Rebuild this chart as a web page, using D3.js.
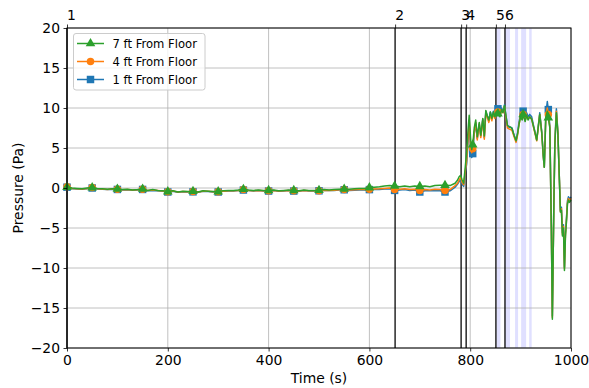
<!DOCTYPE html>
<html><head><meta charset="utf-8">
<script src="https://cdn.jsdelivr.net/npm/d3@7"></script>
<style>body{margin:0;background:#fff}svg{display:block;font-family:"DejaVu Sans",sans-serif}</style>
</head><body><svg id="c" width="589" height="388"></svg>
<script>
const time = [
0,10,20,30,40,50,60,70,80,90,100,110,120,130,140,150,160,170,180,190,
200,210,220,230,240,250,260,270,280,290,300,310,320,330,340,350,360,370,380,390,
400,410,420,430,440,450,460,470,480,490,500,510,520,530,540,550,560,570,580,590,
600,610,620,630,640,650,660,670,680,690,700,710,720,730,740,750,760,770,
775,778,781,784,787,790,793,796,798,801,803,805,808,811,814,818,821,825,828,831,
834,837,840,843,846,849,852,855,859,862,865,868,871,874,877,880,883,887,891,894,
897,900,903,905,909,912,915,918,922,926,929,932,935,938,942,945,947,950,953,955,
958,961,963,966,968,971,974,977,979,981,983,985,987,989,991,993,995,997,1000];
const p7ft = [
0.10,0.00,-0.05,-0.10,0.00,0.05,-0.05,-0.10,-0.15,-0.10,-0.12,-0.20,-0.15,-0.25,-0.20,-0.12,-0.30,-0.20,-0.30,-0.35,
-0.45,-0.35,-0.50,-0.40,-0.45,-0.40,-0.50,-0.35,-0.40,-0.45,-0.45,-0.35,-0.30,-0.30,-0.25,-0.15,-0.25,-0.30,-0.25,-0.30,
-0.30,-0.25,-0.35,-0.30,-0.25,-0.30,-0.35,-0.25,-0.30,-0.30,-0.28,-0.20,-0.25,-0.20,-0.15,-0.12,-0.15,-0.10,-0.05,-0.05,
0.05,0.10,0.15,0.25,0.30,0.25,0.15,0.25,0.15,0.25,0.20,0.25,0.15,0.30,0.35,0.35,0.30,0.60,
1.0,1.4,1.6,1.0,0.6,2.5,4.5,7.5,9.1,6.0,4.8,5.4,7.5,8.5,6.4,8.2,6.6,8.7,6.5,9.7,
9.0,8.5,9.5,8.7,9.5,8.9,9.6,9.3,8.9,9.8,9.4,10.3,9.0,7.8,7.7,7.6,7.4,6.6,5.9,6.8,
8.0,8.9,8.5,9.2,8.3,9.1,8.5,8.9,8.6,7.6,6.8,6.0,7.6,9.2,6.9,4.0,2.6,8.8,9.6,8.8,
7.5,-5.0,-16.4,-2.0,5.5,9.4,6.8,1.0,-3.0,-2.8,-6.0,-5.0,-10.3,-6.0,-4.2,-2.0,-1.5,-1.8,-1.5];
const p4ft = [
0.15,-0.05,-0.08,-0.12,-0.05,0.05,-0.08,-0.12,-0.18,-0.12,-0.15,-0.22,-0.18,-0.25,-0.22,-0.15,-0.32,-0.25,-0.32,-0.38,
-0.48,-0.38,-0.50,-0.45,-0.48,-0.45,-0.50,-0.40,-0.42,-0.48,-0.48,-0.40,-0.35,-0.35,-0.30,-0.20,-0.30,-0.35,-0.30,-0.35,
-0.35,-0.30,-0.38,-0.35,-0.30,-0.35,-0.38,-0.30,-0.35,-0.35,-0.33,-0.28,-0.30,-0.28,-0.22,-0.20,-0.25,-0.22,-0.20,-0.20,
-0.15,-0.12,-0.10,-0.05,0.00,-0.20,-0.15,-0.10,-0.20,-0.15,-0.30,-0.20,-0.25,-0.15,-0.20,-0.30,-0.20,0.30,
0.6,1.0,1.3,0.7,0.4,2.0,3.5,6.5,8.5,5.0,4.4,4.9,7.0,8.2,6.0,8.0,6.3,8.5,6.1,9.4,
8.8,8.2,9.2,8.4,9.3,8.7,9.6,9.5,9.1,9.8,9.4,10.2,8.8,7.5,7.4,7.3,7.2,6.4,5.7,6.6,
8.0,9.0,8.6,9.2,8.4,9.1,8.6,8.9,8.6,7.5,6.7,5.9,7.5,9.2,6.8,4.0,2.6,8.9,10.0,9.2,
7.6,-5.0,-16.2,-2.0,5.6,9.6,6.9,1.0,-3.0,-2.6,-5.8,-4.8,-10.1,-5.8,-4.0,-1.8,-1.3,-1.6,-1.3];
const p1ft = [
0.10,-0.10,-0.12,-0.15,-0.10,0.00,-0.12,-0.15,-0.20,-0.15,-0.18,-0.25,-0.22,-0.28,-0.25,-0.18,-0.35,-0.30,-0.35,-0.40,
-0.50,-0.42,-0.52,-0.48,-0.50,-0.48,-0.52,-0.42,-0.45,-0.50,-0.50,-0.42,-0.38,-0.38,-0.32,-0.25,-0.32,-0.38,-0.32,-0.38,
-0.38,-0.32,-0.40,-0.38,-0.32,-0.38,-0.40,-0.32,-0.38,-0.38,-0.35,-0.30,-0.32,-0.30,-0.25,-0.22,-0.30,-0.28,-0.25,-0.25,
-0.20,-0.20,-0.18,-0.12,-0.10,-0.30,-0.25,-0.20,-0.30,-0.25,-0.50,-0.35,-0.35,-0.30,-0.35,-0.50,-0.35,0.10,
0.5,0.8,1.1,0.5,0.2,1.8,3.0,6.0,8.0,4.5,3.8,4.3,6.8,8.0,6.2,8.0,6.5,8.6,6.3,9.6,
9.0,8.4,9.5,8.7,9.6,9.0,9.9,9.9,9.4,10.0,9.6,10.4,9.0,7.8,7.6,7.6,7.5,6.6,5.9,6.9,
8.3,9.4,9.0,9.6,8.8,9.4,8.9,9.2,8.9,7.7,6.9,6.0,7.7,9.4,7.0,4.0,2.6,9.2,10.8,9.8,
7.8,-5.0,-16.0,-2.0,5.8,9.9,7.0,1.0,-2.8,-2.4,-5.6,-4.6,-9.9,-5.6,-3.8,-1.6,-1.1,-1.4,-1.1];
const markerTimes = [0,50,100,150,200,250,300,350,400,450,500,550,600,650,700,750,805,855,905,955];
const eventTimes = [0,651,782,792,851,869];
const eventLabels = ["1","2","3","4","5","6"];
const bandStarts = [852,869,889,901,917];
const bandEnds = [860,879,895,911,922];
const xTicks = [0,200,400,600,800,1000];
const yTicks = [-20,-15,-10,-5,0,5,10,15,20];
const seriesNames = ["1 ft From Floor","4 ft From Floor","7 ft From Floor"];
const seriesColors = ["#1f77b4","#ff7f0e","#2ca02c"];
const seriesMarkers = ["square","circle","triangle"];

const svg = d3.select("#c");
const m = {l:67, r:18, t:28, b:40};
const W = 589, H = 388;
const x = d3.scaleLinear().domain([0,1000]).range([m.l, W-m.r]);
const y = d3.scaleLinear().domain([-20,20]).range([H-m.b, m.t]);
const fs = 13.9;

// bands
svg.append("g").selectAll("rect").data(bandStarts).join("rect")
  .attr("x",(d)=>x(d)).attr("width",(d,i)=>x(bandEnds[i])-x(d))
  .attr("y",m.t).attr("height",H-m.b-m.t).attr("fill","#0000ff").attr("fill-opacity",0.12);

// grid
const g = svg.append("g");
g.selectAll(".gx").data(xTicks).join("line").attr("x1",d=>x(d)).attr("x2",d=>x(d))
  .attr("y1",m.t).attr("y2",H-m.b).attr("stroke","#b0b0b0").attr("stroke-width",0.8);
g.selectAll(".gy").data(yTicks).join("line").attr("y1",d=>y(d)).attr("y2",d=>y(d))
  .attr("x1",m.l).attr("x2",W-m.r).attr("stroke","#b0b0b0").attr("stroke-width",0.8);

// event lines
svg.append("g").selectAll("line").data(eventTimes).join("line")
  .attr("x1",d=>x(d)).attr("x2",d=>x(d)).attr("y1",m.t).attr("y2",H-m.b)
  .attr("stroke","#000").attr("stroke-width",1.5).attr("stroke-opacity",0.85);

// data
const seriesVals = [p1ft,p4ft,p7ft];
const line = d3.line().x((d)=>x(d[0])).y(d=>y(d[1]));
const symType = {square:d3.symbolSquare, circle:d3.symbolCircle, triangle:d3.symbolTriangle};
const symSize = {square:56, circle:44, triangle:40};
seriesVals.forEach((vals,k)=>{
  const pts = time.map((t,i)=>[t,vals[i]]);
  svg.append("path").attr("d",line(pts)).attr("fill","none")
    .attr("stroke",seriesColors[k]).attr("stroke-width",1.5).attr("stroke-linejoin","round");
  const mk = pts.filter(p=>markerTimes.includes(p[0]));
  svg.append("g").selectAll("path").data(mk).join("path")
    .attr("transform",p=>`translate(${x(p[0])},${y(p[1])})`)
    .attr("d",d3.symbol().type(symType[seriesMarkers[k]]).size(symSize[seriesMarkers[k]]))
    .attr("fill",seriesColors[k]);
});

// frame
svg.append("rect").attr("x",m.l).attr("y",m.t).attr("width",W-m.l-m.r).attr("height",H-m.t-m.b)
  .attr("fill","none").attr("stroke","#000").attr("stroke-width",1);

// axes
const fmt = d=> d<0 ? "\u2212"+Math.abs(d) : String(d);
const ax = svg.append("g").attr("transform",`translate(0,${H-m.b})`)
  .call(d3.axisBottom(x).tickValues(xTicks).tickFormat(fmt).tickSize(3.5).tickPadding(3.5));
const ay = svg.append("g").attr("transform",`translate(${m.l},0)`)
  .call(d3.axisLeft(y).tickValues(yTicks).tickFormat(fmt).tickSize(3.5).tickPadding(3.5));
const at = svg.append("g").attr("transform",`translate(0,${m.t})`)
  .call(d3.axisTop(x).tickValues(eventTimes).tickFormat((d,i)=>eventLabels[i]).tickSize(3.5).tickPadding(5));
[ax,ay,at].forEach(a=>{
  a.select(".domain").remove();
  a.selectAll("text").attr("font-size",fs).attr("font-family","DejaVu Sans").attr("fill","#000");
  a.selectAll("line").attr("stroke","#000").attr("stroke-width",0.8);
});
at.selectAll("text").attr("dx",4);

svg.append("text").attr("x",(m.l+W-m.r)/2).attr("y",383).attr("text-anchor","middle")
  .attr("font-size",fs).text("Time (s)");
svg.append("text").attr("transform",`translate(23,${(m.t+H-m.b)/2}) rotate(-90)`)
  .attr("text-anchor","middle").attr("font-size",fs).text("Pressure (Pa)");

// legend (reversed order)
const lg = svg.append("g");
lg.append("rect").attr("x",73.5).attr("y",33.5).attr("width",131.5).attr("height",56.5).attr("rx",2.5)
  .attr("fill","#fff").attr("fill-opacity",0.8).attr("stroke","#cccccc").attr("stroke-width",1);
[2,1,0].forEach((k,j)=>{
  const cy = 43.5 + j*18;
  lg.append("line").attr("x1",77).attr("x2",104).attr("y1",cy).attr("y2",cy)
    .attr("stroke",seriesColors[k]).attr("stroke-width",1.5);
  lg.append("path").attr("transform",`translate(90.5,${cy})`)
    .attr("d",d3.symbol().type(symType[seriesMarkers[k]]).size(symSize[seriesMarkers[k]]))
    .attr("fill",seriesColors[k]);
  lg.append("text").attr("x",112.5).attr("y",cy+4.2).attr("font-size",11.6).text(seriesNames[k]);
});
</script></body></html>
